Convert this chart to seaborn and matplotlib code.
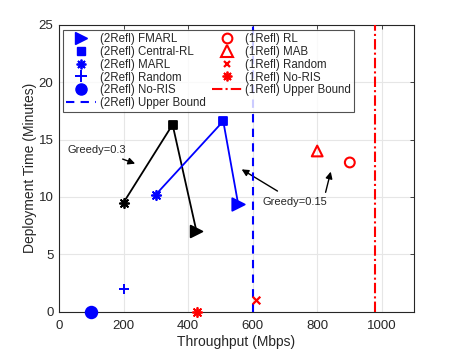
import matplotlib
matplotlib.use("Agg")
import matplotlib.pyplot as plt
from matplotlib.lines import Line2D
import seaborn as sns
import pandas as pd

# ---- data ----
fmarl_2 = (555, 9.4)
central_2 = (509, 16.6)
marl_2 = (300, 10.2)
random_2 = (200, 2.0)
noris_2 = (100, 0.0)
upper_2 = 600

rl_1 = (901, 13.0)
mab_1 = (800, 14.0)
random_1 = (609, 1.0)
noris_1 = (429, 0.0)
upper_1 = 980

# greedy=0.3 (black) path: MARL -> Central-RL -> FMARL
g03_x = [200, 352, 426]
g03_y = [9.5, 16.3, 7.0]
# greedy=0.15 (blue) path
g015_x = [marl_2[0], central_2[0], fmarl_2[0]]
g015_y = [marl_2[1], central_2[1], fmarl_2[1]]

xticks = [0, 200, 400, 600, 800, 1000]
yticks = [0, 5, 10, 15, 20, 25]

sns.set_style("white")
plt.rcParams['font.family'] = ['Liberation Sans', 'DejaVu Sans']

fig = plt.figure(figsize=(4.57, 3.5), dpi=100)
ax = fig.add_axes([0.129, 0.1094, 0.777, 0.82])

AST = (8, 2, 0)
blue = '#0000FF'
red = '#FF0000'

# lines
sns.lineplot(x=g03_x, y=g03_y, sort=False, color='black', lw=1.3, ax=ax, estimator=None)
sns.lineplot(x=g015_x, y=g015_y, sort=False, color=blue, lw=1.3, ax=ax, estimator=None)

def pt(p, marker, color, size, filled=True, lw=1.3):
    d = pd.DataFrame({'x': [p[0]], 'y': [p[1]]})
    if filled:
        sns.scatterplot(data=d, x='x', y='y', marker=marker, color=color, s=size,
                        edgecolor=color, linewidth=lw, ax=ax, zorder=5, clip_on=False)
    else:
        sns.scatterplot(data=d, x='x', y='y', marker=marker, facecolor='none', s=size,
                        edgecolor=color, linewidth=lw, ax=ax, zorder=5, clip_on=False)

# black greedy=0.3 markers
pt((g03_x[0], g03_y[0]), AST, 'black', 45)
pt((g03_x[1], g03_y[1]), 's', 'black', 35)
pt((g03_x[2], g03_y[2]), '>', 'black', 70)

# 2Refl
pt(fmarl_2, '>', blue, 80)
pt(central_2, 's', blue, 35)
pt(marl_2, AST, blue, 45)
pt(random_2, '+', blue, 55, lw=1.4)
pt(noris_2, 'o', blue, 70)

# 1Refl
pt(rl_1, 'o', red, 50, filled=False, lw=1.5)
pt(mab_1, '^', red, 60, filled=False, lw=1.5)
pt(random_1, 'x', red, 30, lw=1.6)
pt(noris_1, AST, red, 45)

ax.axvline(upper_2, color=blue, ls=(0, (4, 3)), lw=1.5, zorder=4)
ax.axvline(upper_1, color=red, ls=(0, (5, 1.5, 1, 1.5)), lw=1.5, zorder=4)

# annotations
ax.annotate('Greedy=0.3', xy=(236, 12.9), xytext=(28, 14.1), fontsize=8, color='#262626',
            ha='left', va='center',
            arrowprops=dict(arrowstyle='-|>', color='black', lw=1, shrinkA=2, shrinkB=0,
                            mutation_scale=10))
ax.annotate('Greedy=0.15', xy=(566, 12.4), xytext=(630, 9.6), fontsize=8, color='#262626',
            ha='left', va='center',
            arrowprops=dict(arrowstyle='-|>', color='black', lw=1, shrinkA=3, shrinkB=0,
                            mutation_scale=10))
ax.annotate('', xy=(842, 12.2), xytext=(826, 10.4),
            arrowprops=dict(arrowstyle='-|>', color='black', lw=1, shrinkA=0, shrinkB=0,
                            mutation_scale=10))

ax.set_xlim(0, 1100)
ax.set_ylim(0, 25)
ax.set_xticks(xticks)
ax.set_yticks(yticks)
ax.grid(True, color='#e6e6e6', lw=0.8)
ax.set_axisbelow(True)
for s in ax.spines.values():
    s.set_color('#262626')
    s.set_linewidth(0.8)
ax.tick_params(direction='in', length=3, top=True, right=True, colors='#262626',
               labelsize=9.5, width=0.6)
ax.tick_params(axis='x', pad=6)
ax.tick_params(axis='y', pad=4)
ax.set_xlabel('Throughput (Mbps)', fontsize=10, color='#262626', labelpad=2)
ax.set_ylabel('Deployment Time (Minutes)', fontsize=10, color='#262626', labelpad=1)

handles = [
    Line2D([], [], ls='none', marker='>', color=blue, ms=9),
    Line2D([], [], ls='none', marker='s', color=blue, ms=6),
    Line2D([], [], ls='none', marker=AST, color=blue, ms=7, mew=1.3),
    Line2D([], [], ls='none', marker='+', color=blue, ms=8, mew=1.4),
    Line2D([], [], ls='none', marker='o', color=blue, ms=8),
    Line2D([], [], color=blue, ls=(0, (4, 3)), lw=1.5),
    Line2D([], [], ls='none', marker='o', mfc='none', mec=red, ms=7, mew=1.5),
    Line2D([], [], ls='none', marker='^', mfc='none', mec=red, ms=8, mew=1.5),
    Line2D([], [], ls='none', marker='x', color=red, ms=5, mew=1.6),
    Line2D([], [], ls='none', marker=AST, color=red, ms=7, mew=1.3),
    Line2D([], [], color=red, ls=(0, (5, 1.5, 1, 1.5)), lw=1.5),
]
labels = ['(2Refl) FMARL', '(2Refl) Central-RL', '(2Refl) MARL', '(2Refl) Random',
          '(2Refl) No-RIS', '(2Refl) Upper Bound',
          '(1Refl) RL', '(1Refl) MAB', '(1Refl) Random', '(1Refl) No-RIS',
          '(1Refl) Upper Bound']
leg = ax.legend(handles, labels, ncol=2, loc='upper left', bbox_to_anchor=(0.012, 0.982),
                fontsize=8.3, frameon=True, fancybox=False, edgecolor='#262626',
                handlelength=2.6, handletextpad=0.3, columnspacing=0.55,
                labelspacing=0.08, borderpad=0.25, borderaxespad=0)
leg.get_frame().set_linewidth(0.8)
leg.set_zorder(10)
for t in leg.get_texts():
    t.set_color('#262626')

fig.savefig('out.png', dpi=100)
